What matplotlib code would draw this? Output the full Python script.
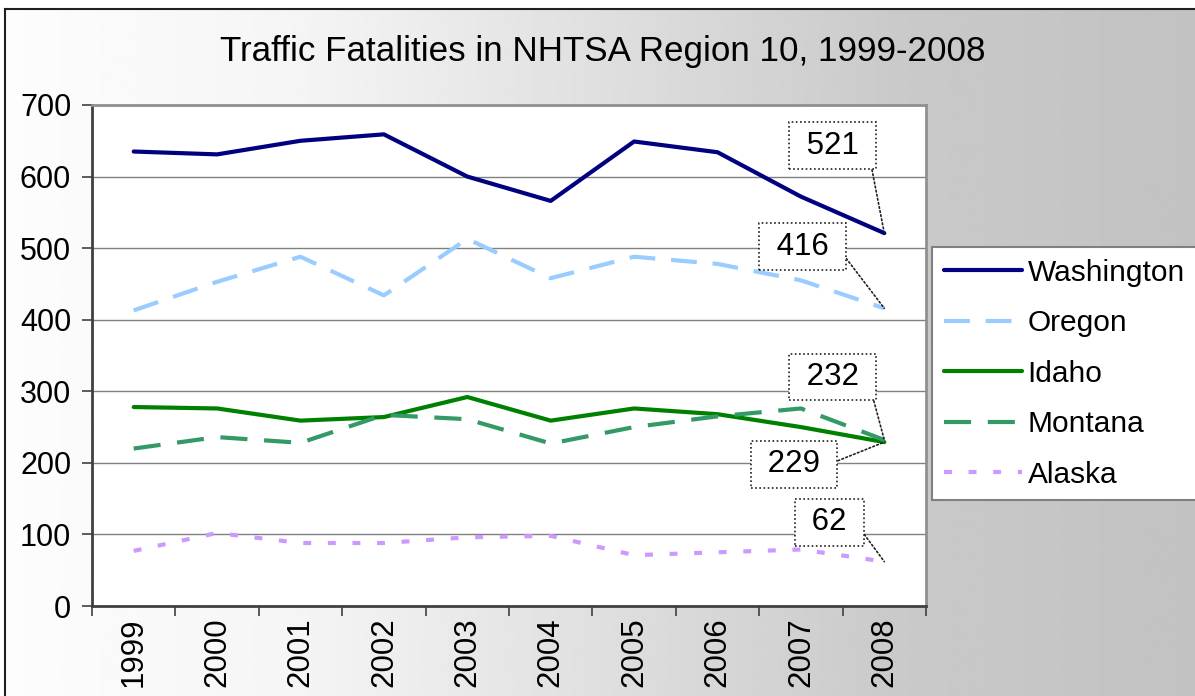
import numpy as np
import matplotlib
matplotlib.use("Agg")
import matplotlib.pyplot as plt

plt.rcParams['font.family'] = ['Liberation Sans', 'DejaVu Sans']

years = ["1999", "2000", "2001", "2002", "2003", "2004", "2005", "2006", "2007", "2008"]
washington = [635, 631, 650, 659, 600, 566, 649, 634, 572, 521]
oregon = [413, 453, 488, 434, 513, 458, 488, 478, 455, 416]
idaho = [278, 276, 259, 264, 292, 259, 276, 268, 250, 229]
montana = [220, 236, 228, 267, 261, 227, 250, 265, 276, 232]
alaska = [77, 102, 88, 88, 96, 98, 71, 75, 79, 62]

W, H = 1195, 696
fig = plt.figure(figsize=(W / 100, H / 100), dpi=100)
fig.patch.set_facecolor("white")

# gradient chart area background
bg = fig.add_axes([5 / W, 0, 1 - 5 / W, 1 - 9 / H])
px = np.linspace(5, W, 600)
shade = np.interp(px, [5, 300, 900, 1195], [0.99, 0.96, 0.79, 0.76])
bg.imshow(np.tile(shade, (2, 1)), cmap="gray", vmin=0, vmax=1,
          aspect="auto", extent=[0, 1, 0, 1])
bg.set_xticks([])
bg.set_yticks([])
for side in ["right", "bottom"]:
    bg.spines[side].set_visible(False)
for side in ["left", "top"]:
    bg.spines[side].set_color("#202020")
    bg.spines[side].set_linewidth(1.5)

ax = fig.add_axes([92 / W, 1 - 606 / H, (926 - 92) / W, (606 - 105) / H])
ax.set_facecolor("white")

x = np.arange(len(years))
series = [
    ("Washington", washington, "#000080", "-"),
    ("Oregon", oregon, "#99ccff", (0, (6.2, 3.8))),
    ("Idaho", idaho, "#008000", "-"),
    ("Montana", montana, "#339966", (0, (6.5, 4))),
    ("Alaska", alaska, "#cc99ff", (0, (1.9, 4))),
]
for name, vals, col, ls in series:
    ax.plot(x, vals, color=col, linestyle=ls, linewidth=3,
            label=name, dash_capstyle="butt", solid_capstyle="round")

ax.set_xlim(-0.5, len(years) - 0.5)
ax.set_ylim(0, 700)
ax.set_yticks(range(0, 701, 100))
ax.set_xticks(x)
ax.set_xticklabels(years, rotation=90, fontsize=22.5)
ax.set_xticks(np.arange(-0.5, len(years), 1), minor=True)
ax.tick_params(axis="x", which="major", length=0, pad=8)
ax.tick_params(axis="x", which="minor", length=7, width=1.2, color="#404040", direction="out")
ax.tick_params(axis="y", labelsize=22, length=7, width=1.2, color="#404040", pad=8)
ax.yaxis.grid(True, color="#808080", linewidth=1)
ax.set_axisbelow(True)
for side in ["left", "bottom"]:
    ax.spines[side].set_color("#404040")
    ax.spines[side].set_linewidth(2)
for side in ["top", "right"]:
    ax.spines[side].set_color("#909090")
    ax.spines[side].set_linewidth(2)

# end-point labels (box centre in category / value units)
labels = [
    (washington, 8.38, 643),
    (oregon, 8.02, 502),
    (montana, 8.38, 320),
    (idaho, 7.92, 198),
    (alaska, 8.34, 117),
]
for vals, tx, ty in labels:
    ax.annotate(" %d " % vals[-1], xy=(x[-1], vals[-1]), xytext=(tx, ty),
                fontsize=22.5, ha="center", va="center",
                bbox=dict(boxstyle="square,pad=0.27", fc="white", ec="#202020",
                          ls=(0, (1, 1.5)), lw=1.2),
                arrowprops=dict(arrowstyle="-", color="#202020", ls=(0, (1, 1.5)),
                                lw=1.2, shrinkA=0, shrinkB=0, relpos=(1, 0.5)))

fig.text(603 / W, 1 - 52 / H, "Traffic Fatalities in NHTSA Region 10, 1999-2008",
         fontsize=25.2, ha="center", va="center")

leg = fig.legend(loc="upper left", bbox_to_anchor=(932 / W, 1 - 247 / H),
                 fontsize=21.5, frameon=True, fancybox=False, framealpha=1,
                 handlelength=2.6, handletextpad=0.2, labelspacing=0.75,
                 borderpad=0.4, borderaxespad=0)
leg.get_frame().set_edgecolor("#808080")
leg.get_frame().set_linewidth(1.5)
leg.get_frame().set_facecolor("white")

fig.savefig("out.png", dpi=100)
